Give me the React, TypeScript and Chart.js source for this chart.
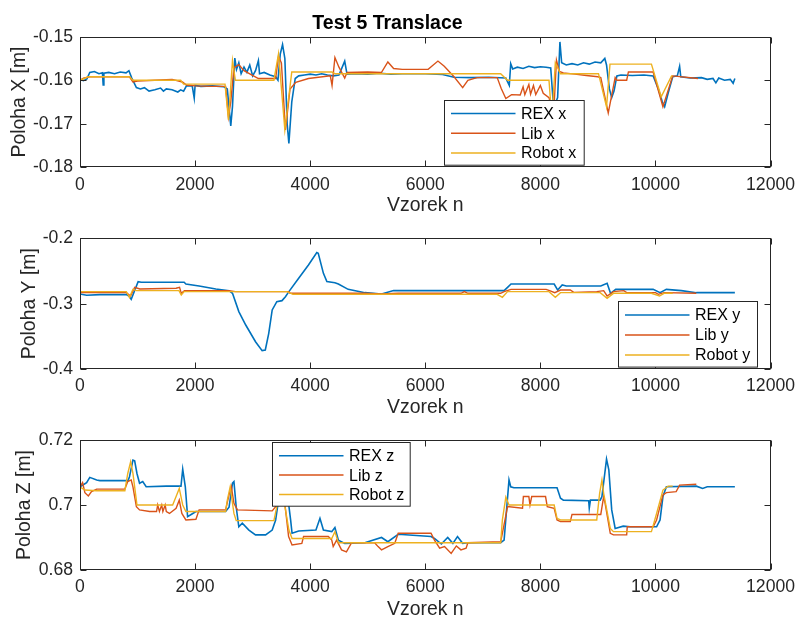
import React, { useEffect, useRef } from 'react';
import { Chart, registerables } from 'chart.js';
Chart.register(...registerables);

const FONT = "'Liberation Sans', Arial, Helvetica, sans-serif";
const AX = '#262626';
const C_REX = '#0072BD';
const C_LIB = '#D95319';
const C_ROBOT = '#EDB120';

const X_MIN = 0;
const X_MAX = 12000;
const X_STEP = 2000;

// ---------- Panel 1: Poloha X ----------
const REX_X_N = [0, 60, 120, 170, 250, 330, 390, 403, 415, 500, 600, 700, 800, 850, 900, 980, 1050, 1120, 1200, 1300, 1400, 1450, 1500, 1600, 1700, 1750, 1800, 1850, 1950, 1985, 2000, 2100, 2300, 2500, 2560, 2620, 2650, 2690, 2720, 2760, 2800, 2850, 2900, 2950, 3000, 3050, 3100, 3120, 3200, 3300, 3400, 3440, 3480, 3520, 3560, 3600, 3630, 3680, 3740, 3800, 3900, 4000, 4100, 4200, 4300, 4400, 4500, 4600, 4640, 4800, 5000, 5200, 5400, 5600, 6000, 6300, 6500, 6800, 7100, 7400, 7460, 7485, 7520, 7600, 7700, 7800, 7900, 8000, 8100, 8180, 8220, 8270, 8300, 8340, 8370, 8450, 8550, 8650, 8750, 8850, 8950, 9050, 9120, 9150, 9200, 9240, 9280, 9330, 9400, 9600, 9800, 9960, 10050, 10120, 10160, 10220, 10300, 10380, 10420, 10440, 10600, 10800, 10900, 11000, 11050, 11100, 11200, 11300, 11350, 11380];
const REX_X_V = [-0.1598, -0.1601, -0.1597, -0.1582, -0.158, -0.1585, -0.1583, -0.1611, -0.1584, -0.1582, -0.1585, -0.1581, -0.1583, -0.1578, -0.1595, -0.1617, -0.162, -0.1617, -0.1625, -0.1622, -0.1618, -0.1625, -0.162, -0.1622, -0.1627, -0.1622, -0.1625, -0.1613, -0.1613, -0.1641, -0.1612, -0.1614, -0.1613, -0.1615, -0.162, -0.1705, -0.166, -0.1549, -0.1575, -0.156, -0.1585, -0.157, -0.1582, -0.1565, -0.159, -0.1578, -0.1555, -0.1585, -0.1582, -0.1588, -0.1592, -0.16, -0.154, -0.1518, -0.155, -0.17, -0.1745, -0.165, -0.1596, -0.159, -0.1588, -0.1586, -0.1588, -0.1585, -0.1588, -0.159, -0.1588, -0.1556, -0.1586, -0.1585, -0.1586, -0.1584, -0.1586, -0.1585, -0.1585, -0.1587, -0.1593, -0.1594, -0.1593, -0.1595, -0.1612, -0.1562, -0.1574, -0.157, -0.1573, -0.1568, -0.1571, -0.1569, -0.157, -0.1572, -0.1645, -0.165, -0.164, -0.1512, -0.156, -0.1565, -0.1562, -0.1565, -0.156, -0.1563, -0.1558, -0.156, -0.155, -0.1565, -0.162, -0.164, -0.1625, -0.159, -0.1588, -0.1589, -0.1588, -0.159, -0.162, -0.165, -0.1661, -0.163, -0.1592, -0.159, -0.1568, -0.1592, -0.1595, -0.1594, -0.1598, -0.1596, -0.1606, -0.1595, -0.16, -0.1598, -0.1607, -0.1596];

const LIB_X_N = [0, 60, 170, 860, 920, 1000, 1300, 1600, 1780, 1850, 2000, 2300, 2530, 2580, 2620, 2675, 2760, 2850, 2990, 3100, 3400, 3450, 3500, 3570, 3650, 3750, 3970, 4350, 4380, 4430, 4500, 4600, 4640, 5000, 5240, 5350, 5450, 5600, 6050, 6220, 6330, 6500, 6650, 6740, 6900, 7250, 7320, 7400, 7500, 7650, 7700, 7730, 7800, 7830, 7880, 7920, 8000, 8050, 8150, 8230, 8280, 8330, 8400, 8600, 8800, 9000, 9050, 9180, 9300, 9330, 9500, 9530, 9960, 10130, 10300, 10740];
const LIB_X_V = [-0.16, -0.1595, -0.1592, -0.1592, -0.1604, -0.1602, -0.16, -0.1598, -0.1604, -0.1611, -0.1613, -0.1614, -0.1614, -0.1684, -0.165, -0.1571, -0.1564, -0.1578, -0.1588, -0.1596, -0.1596, -0.1545, -0.156, -0.1714, -0.162, -0.1605, -0.1596, -0.159, -0.1612, -0.1548, -0.157, -0.1595, -0.1582, -0.1581, -0.1582, -0.1558, -0.1573, -0.1575, -0.1575, -0.1556, -0.1568, -0.1592, -0.1617, -0.16, -0.1594, -0.1594, -0.1619, -0.1642, -0.1633, -0.1634, -0.1615, -0.1633, -0.161, -0.1632, -0.1612, -0.1633, -0.1612, -0.163, -0.164, -0.168, -0.1554, -0.158, -0.1583, -0.1586, -0.1589, -0.1592, -0.1594, -0.1675, -0.1594, -0.16, -0.16, -0.1581, -0.1581, -0.1661, -0.159, -0.1596];

const ROBOT_X_N = [0, 140, 860, 920, 1750, 1800, 2520, 2580, 2650, 2700, 3370, 3450, 3560, 3680, 4375, 4430, 7310, 7430, 8150, 8200, 8260, 8350, 9010, 9150, 9210, 9930, 10100, 10280, 10300];
const ROBOT_X_V = [-0.16, -0.1592, -0.1592, -0.16, -0.16, -0.1609, -0.1609, -0.1691, -0.1555, -0.16, -0.16, -0.1539, -0.1714, -0.1581, -0.1581, -0.1585, -0.1585, -0.16, -0.16, -0.169, -0.156, -0.1585, -0.1585, -0.1661, -0.1563, -0.1563, -0.1638, -0.159, -0.159];

// ---------- Panel 2: Poloha Y ----------
const REX_Y_N = [0, 115, 345, 805, 850, 890, 1010, 1065, 1810, 1840, 2070, 2360, 2590, 2650, 2760, 2880, 3050, 3165, 3220, 3280, 3340, 3420, 3510, 3570, 3630, 3800, 3970, 4115, 4140, 4230, 4290, 4430, 4490, 4660, 4950, 5240, 5450, 7370, 7430, 7490, 8240, 8300, 8380, 8450, 9050, 9160, 9220, 9310, 9960, 10080, 10190, 10450, 10710, 11380];
const REX_Y_V = [-0.2852, -0.2872, -0.2862, -0.2862, -0.2883, -0.2934, -0.2663, -0.2673, -0.2673, -0.2699, -0.273, -0.2776, -0.2801, -0.2842, -0.3122, -0.3327, -0.3582, -0.3719, -0.3709, -0.3454, -0.3097, -0.2969, -0.2954, -0.2893, -0.2816, -0.2612, -0.2408, -0.2219, -0.223, -0.2536, -0.2663, -0.2679, -0.2699, -0.2781, -0.2832, -0.2852, -0.28, -0.28, -0.275, -0.2699, -0.2699, -0.2791, -0.2714, -0.273, -0.273, -0.2689, -0.2842, -0.2781, -0.2781, -0.2832, -0.2781, -0.2801, -0.2832, -0.2832];

const LIB_Y_N = [0, 805, 880, 950, 1040, 1670, 1730, 1760, 1815, 2590, 2700, 3630, 3650, 4950, 5240, 5530, 6620, 6680, 6740, 7310, 7370, 7490, 8100, 8160, 8250, 8350, 8520, 8580, 8980, 9100, 9160, 9270, 9450, 9500, 10000, 10050, 10150, 10710];
const LIB_Y_V = [-0.2832, -0.2832, -0.2883, -0.275, -0.2776, -0.2765, -0.275, -0.2842, -0.2801, -0.2801, -0.2816, -0.2816, -0.2842, -0.2842, -0.2852, -0.2842, -0.2842, -0.2816, -0.2842, -0.2842, -0.2816, -0.2781, -0.2781, -0.2801, -0.2832, -0.2791, -0.2791, -0.2827, -0.2816, -0.2801, -0.2883, -0.2816, -0.2801, -0.2832, -0.2832, -0.2857, -0.2832, -0.2842];

const ROBOT_Y_N = [0, 805, 860, 920, 980, 1720, 1760, 1810, 3600, 3700, 7250, 7340, 7430, 8150, 8260, 8350, 9040, 9160, 9270, 9930, 10070, 10150, 10300];
const ROBOT_Y_V = [-0.2816, -0.2816, -0.2903, -0.2781, -0.2801, -0.2801, -0.2867, -0.2816, -0.2816, -0.2857, -0.2857, -0.2903, -0.2816, -0.2816, -0.2903, -0.2832, -0.2832, -0.2918, -0.2842, -0.2842, -0.2883, -0.2842, -0.2842];

// ---------- Panel 3: Poloha Z ----------
const REX_Z_N = [0, 115, 170, 290, 345, 835, 860, 920, 950, 990, 1035, 1090, 1150, 1500, 1755, 1785, 1830, 1870, 1960, 2015, 2530, 2590, 2650, 2675, 2715, 2760, 2820, 2935, 3050, 3225, 3340, 3400, 3450, 3530, 3600, 3660, 3685, 3800, 4100, 4170, 4230, 4375, 4430, 4490, 4600, 4950, 5240, 5350, 5530, 6100, 6160, 6280, 6390, 6480, 6560, 6650, 6740, 7310, 7370, 7455, 7485, 7540, 8290, 8350, 8400, 8840, 8850, 8870, 9040, 9070, 9150, 9190, 9240, 9300, 9440, 9560, 10020, 10080, 10130, 10190, 10710, 10820, 10900, 11380];
const REX_Z_V = [0.7056, 0.7069, 0.7085, 0.7077, 0.7075, 0.7075, 0.7087, 0.7138, 0.7136, 0.7097, 0.7067, 0.7072, 0.7056, 0.7058, 0.7058, 0.711, 0.7056, 0.6964, 0.6974, 0.698, 0.698, 0.6993, 0.7067, 0.7072, 0.6993, 0.6933, 0.6944, 0.6923, 0.6908, 0.6908, 0.6923, 0.6954, 0.7015, 0.707, 0.704, 0.6954, 0.6913, 0.692, 0.6923, 0.6959, 0.6923, 0.6918, 0.6931, 0.6892, 0.6882, 0.6884, 0.69, 0.6887, 0.691, 0.6903, 0.6897, 0.688, 0.69, 0.6882, 0.6903, 0.6882, 0.6884, 0.6884, 0.6892, 0.7077, 0.7056, 0.7053, 0.7053, 0.7021, 0.7015, 0.7013, 0.699, 0.7015, 0.7015, 0.7026, 0.7141, 0.7108, 0.6985, 0.6928, 0.6935, 0.6933, 0.6933, 0.6954, 0.7026, 0.7056, 0.7058, 0.7051, 0.7056, 0.7056];

const LIB_Z_N = [0, 45, 85, 145, 200, 290, 780, 830, 890, 920, 980, 1035, 1210, 1330, 1350, 1380, 1420, 1440, 1480, 1500, 1555, 1670, 1725, 1770, 1840, 2015, 2070, 2530, 2590, 2630, 2675, 2735, 3340, 3400, 3450, 3530, 3625, 3685, 3855, 3885, 4315, 4375, 4400, 4460, 4545, 4630, 4720, 5120, 5180, 5240, 5350, 5470, 5530, 6100, 6160, 6250, 6335, 6450, 6540, 6620, 6710, 6740, 7310, 7340, 7430, 7690, 7705, 7800, 7820, 7850, 7890, 8090, 8120, 8240, 8290, 8350, 8520, 8550, 9050, 9100, 9125, 9215, 9270, 9500, 9510, 9960, 10020, 10130, 10190, 10360, 10420, 10710];
const LIB_Z_V = [0.7056, 0.7069, 0.7038, 0.7028, 0.7041, 0.7049, 0.7049, 0.7072, 0.7077, 0.7056, 0.6995, 0.6985, 0.698, 0.698, 0.7, 0.698, 0.7, 0.698, 0.7, 0.698, 0.6974, 0.699, 0.7015, 0.6974, 0.6954, 0.6956, 0.6985, 0.6985, 0.7031, 0.7056, 0.7005, 0.6985, 0.6982, 0.6995, 0.7036, 0.705, 0.6903, 0.6877, 0.6882, 0.6903, 0.6903, 0.6892, 0.6872, 0.6892, 0.6862, 0.6856, 0.6884, 0.6884, 0.6872, 0.6862, 0.6872, 0.6882, 0.6913, 0.6913, 0.6892, 0.6867, 0.6872, 0.6851, 0.6874, 0.6862, 0.6867, 0.6884, 0.6887, 0.6913, 0.6995, 0.699, 0.7026, 0.7026, 0.7, 0.7026, 0.7026, 0.7026, 0.6995, 0.699, 0.6954, 0.6949, 0.6949, 0.6971, 0.6971, 0.7026, 0.7005, 0.6913, 0.6908, 0.6908, 0.6933, 0.6933, 0.6954, 0.7031, 0.7038, 0.7041, 0.7061, 0.7064];

const ROBOT_Z_N = [0, 85, 290, 780, 830, 880, 920, 990, 1610, 1670, 1725, 1785, 1840, 2530, 2560, 2610, 2675, 2715, 3370, 3420, 3500, 3630, 3685, 4375, 4430, 4490, 7310, 7340, 7400, 7455, 8240, 8290, 8350, 8980, 9030, 9070, 9100, 9215, 9270, 9930, 10020, 10130, 10220, 10300];
const ROBOT_Z_V = [0.7056, 0.7046, 0.7044, 0.7044, 0.7097, 0.7133, 0.7097, 0.7, 0.7, 0.7026, 0.7051, 0.7, 0.698, 0.698, 0.7015, 0.7056, 0.6974, 0.6952, 0.6952, 0.6995, 0.706, 0.6923, 0.6897, 0.6897, 0.6918, 0.6884, 0.6884, 0.6954, 0.7024, 0.7, 0.7, 0.6959, 0.6954, 0.6954, 0.7036, 0.7077, 0.7036, 0.6928, 0.6918, 0.6918, 0.6974, 0.7046, 0.7058, 0.7058];

const pairs = (n: number[], v: number[]) => n.map((x, i) => ({ x, y: v[i] }));

const fmt = (v: number) => String(Number(Number(v).toFixed(4)));

const axesPlugin = {
  id: 'matlabAxes',
  afterDraw(chart: any, _args: any, opts: any) {
    const { ctx, chartArea: a } = chart;
    const xs = chart.scales.x;
    const ys = chart.scales.y;
    const L = Math.round(a.left) + 0.5;
    const R = Math.round(a.right) - 0.5;
    const T = Math.round(a.top) + 0.5;
    const B = Math.round(a.bottom) - 0.5;
    ctx.save();
    ctx.strokeStyle = AX;
    ctx.lineWidth = 1;
    ctx.strokeRect(L, T, R - L, B - T);
    const tl = 6;
    ctx.beginPath();
    xs.ticks.forEach((t: any) => {
      const px = Math.round(xs.getPixelForValue(t.value)) + 0.5;
      ctx.moveTo(px, B); ctx.lineTo(px, B - tl);
      ctx.moveTo(px, T); ctx.lineTo(px, T + tl);
    });
    ys.ticks.forEach((t: any) => {
      const py = Math.round(ys.getPixelForValue(t.value)) + 0.5;
      ctx.moveTo(L, py); ctx.lineTo(L + tl, py);
      ctx.moveTo(R, py); ctx.lineTo(R - tl, py);
    });
    ctx.stroke();
    const lg = opts && opts.legend;
    if (lg) {
      const bx = Math.round(a.left + lg.dx) + 0.5;
      const by = Math.round(a.top + lg.dy) + 0.5;
      ctx.fillStyle = '#ffffff';
      ctx.fillRect(bx, by, lg.w, lg.h);
      ctx.strokeStyle = AX;
      ctx.lineWidth = 1;
      ctx.strokeRect(bx, by, lg.w, lg.h);
      ctx.font = `16px ${FONT}`;
      ctx.textBaseline = 'middle';
      ctx.textAlign = 'left';
      chart.data.datasets.forEach((ds: any, i: number) => {
        const y = by + lg.row0 + i * lg.gap;
        ctx.strokeStyle = ds.borderColor;
        ctx.lineWidth = 1.5;
        ctx.beginPath();
        ctx.moveTo(bx + 6.5, y);
        ctx.lineTo(bx + 71, y);
        ctx.stroke();
        ctx.fillStyle = '#000';
        ctx.fillText(ds.label, bx + 76.5, y + 1);
      });
    }
    ctx.restore();
  },
};

type Panel = {
  sets: { label: string; color: string; n: number[]; v: number[]; order: number }[];
  yMin: number; yMax: number; yStep: number;
  yTitle: string; yTitlePad: number;
  padTop: number; padBottom: number; xAxisH: number;
  title?: string;
  legend: { dx: number; dy: number; w: number; h: number; row0: number; gap: number };
};

const PANELS: Panel[] = [
  {
    sets: [
      { label: 'REX x', color: C_REX, n: REX_X_N, v: REX_X_V, order: 3 },
      { label: 'Lib x', color: C_LIB, n: LIB_X_N, v: LIB_X_V, order: 2 },
      { label: 'Robot x', color: C_ROBOT, n: ROBOT_X_N, v: ROBOT_X_V, order: 1 },
    ],
    yMin: -0.18, yMax: -0.15, yStep: 0.01,
    yTitle: 'Poloha X [m]', yTitlePad: 8,
    padTop: 0, padBottom: 404.2, xAxisH: 46.5,
    title: 'Test 5 Translace',
    legend: { dx: 364.3, dy: 63.3, w: 139.7, h: 64.7, row0: 13, gap: 19.7 },
  },
  {
    sets: [
      { label: 'REX y', color: C_REX, n: REX_Y_N, v: REX_Y_V, order: 3 },
      { label: 'Lib y', color: C_LIB, n: LIB_Y_N, v: LIB_Y_V, order: 2 },
      { label: 'Robot y', color: C_ROBOT, n: ROBOT_Y_N, v: ROBOT_Y_V, order: 1 },
    ],
    yMin: -0.4, yMax: -0.2, yStep: 0.1,
    yTitle: 'Poloha Y [m]', yTitlePad: 18,
    padTop: 238.3, padBottom: 202.2, xAxisH: 46.8,
    legend: { dx: 538.3, dy: 62.4, w: 139, h: 65.6, row0: 13.5, gap: 20 },
  },
  {
    sets: [
      { label: 'REX z', color: C_REX, n: REX_Z_N, v: REX_Z_V, order: 3 },
      { label: 'Lib z', color: C_LIB, n: LIB_Z_N, v: LIB_Z_V, order: 2 },
      { label: 'Robot z', color: C_ROBOT, n: ROBOT_Z_N, v: ROBOT_Z_V, order: 1 },
    ],
    yMin: 0.68, yMax: 0.72, yStep: 0.02,
    yTitle: 'Poloha Z [m]', yTitlePad: 13.5,
    padTop: 440, padBottom: 0.2, xAxisH: 47.8,
    legend: { dx: 192.3, dy: 2.3, w: 137.7, h: 63.7, row0: 13.2, gap: 19.4 },
  },
];

function buildConfig(p: Panel): any {
  return {
    type: 'line',
    data: {
      datasets: p.sets.map((s) => ({
        label: s.label,
        data: pairs(s.n, s.v),
        borderColor: s.color,
        backgroundColor: s.color,
        borderWidth: s.order === 3 ? 1.6 : 1.4,
        pointRadius: 0,
        tension: 0,
        fill: false,
        order: s.order,
      })),
    },
    options: {
      responsive: false,
      animation: false,
      events: [],
      layout: { padding: { top: p.padTop, bottom: p.padBottom, left: 0, right: 27 } },
      plugins: {
        legend: { display: false },
        tooltip: { enabled: false },
        title: p.title
          ? {
              display: true,
              text: p.title,
              color: '#000',
              font: { family: FONT, size: 19.5, weight: 'bold', lineHeight: 1.2 },
              padding: { top: 11.8, bottom: 1.5 },
            }
          : { display: false },
        matlabAxes: { legend: p.legend },
      },
      scales: {
        x: {
          type: 'linear',
          min: X_MIN,
          max: X_MAX,
          grid: { display: false, drawTicks: false },
          border: { display: false },
          ticks: {
            stepSize: X_STEP,
            color: AX,
            padding: 7,
            maxRotation: 0,
            font: { family: FONT, size: 17.6, lineHeight: 1.2 },
            callback: (v: number) => fmt(v),
          },
          title: {
            display: true,
            text: 'Vzorek n',
            color: AX,
            padding: 0,
            font: { family: FONT, size: 19.4, lineHeight: 0.8 },
          },
          afterFit: (s: any) => { s.height = p.xAxisH; },
        },
        y: {
          type: 'linear',
          min: p.yMin,
          max: p.yMax,
          grid: { display: false, drawTicks: false },
          border: { display: false },
          ticks: {
            stepSize: p.yStep,
            color: AX,
            padding: 7,
            font: { family: FONT, size: 17.6, lineHeight: 1.2 },
            callback: (v: number) => fmt(v),
          },
          title: {
            display: true,
            text: p.yTitle,
            color: AX,
            padding: { top: p.yTitlePad, bottom: 0 },
            font: { family: FONT, size: 19.4, lineHeight: 1.2 },
          },
          afterFit: (s: any) => { s.width = 80; },
        },
      },
    },
    plugins: [axesPlugin],
  };
}

function PanelCanvas({ panel }: { panel: Panel }) {
  const ref = useRef<HTMLCanvasElement | null>(null);
  useEffect(() => {
    if (!ref.current) return;
    const chart = new Chart(ref.current, buildConfig(panel));
    return () => chart.destroy();
  }, [panel]);
  return (
    <canvas
      ref={ref}
      width={802}
      height={618}
      style={{ position: 'absolute', left: 0, top: 0, width: 802, height: 618 }}
    />
  );
}

export default function App() {
  return (
    <div style={{ position: 'absolute', left: 0, top: 0, width: 802, height: 618, background: '#fff', overflow: 'hidden' }}>
      {PANELS.map((p, i) => (
        <PanelCanvas key={i} panel={p} />
      ))}
    </div>
  );
}
